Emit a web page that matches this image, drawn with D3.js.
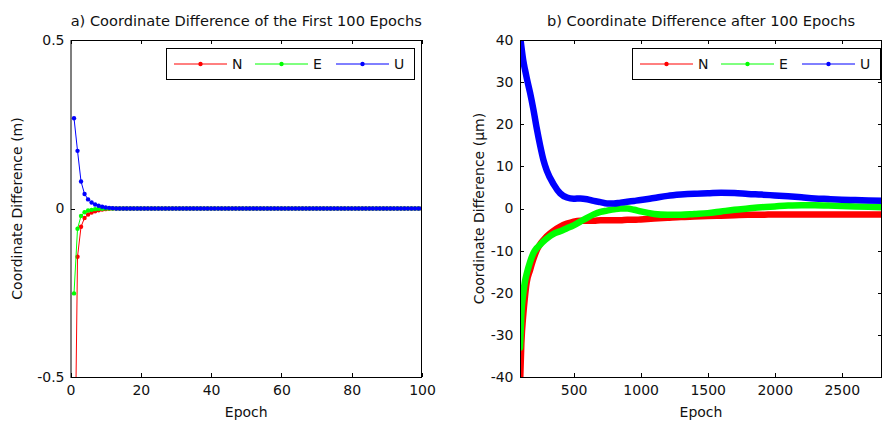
<!DOCTYPE html>
<html>
<head>
<meta charset="utf-8">
<script src="https://cdn.jsdelivr.net/npm/d3@7"></script>
<style>
  body { margin: 0; background: #fff; }
  svg text { font-family: "DejaVu Sans", sans-serif; font-size: 14px; fill: #111; }
  svg text.title { font-size: 14.6px; }
  .axis line, .axis path { stroke: #000; shape-rendering: crispEdges; }
</style>
</head>
<body>
<svg width="882" height="423"></svg>
<script>
/**
 * Coordinate differences N / E / U, two panels
 */

var svg = d3.select("svg");

var seriesNames = ["N", "E", "U"];
var seriesColors = ["#ff0000", "#00ff00", "#0000ff"];

// panel a) first 100 epochs (m), one value per epoch 1..100
var firstN = [-1.0, -0.143, -0.054, -0.028, -0.018, -0.012, -0.008, -0.005, -0.003, -0.002, -0.001, 0,
  0, 0, 0, 0, 0, 0, 0, 0, 0, 0, 0, 0, 0, 0, 0, 0, 0, 0, 0, 0, 0, 0, 0, 0, 0, 0, 0, 0, 0, 0, 0, 0,
  0, 0, 0, 0, 0, 0, 0, 0, 0, 0, 0, 0, 0, 0, 0, 0, 0, 0, 0, 0, 0, 0, 0, 0, 0, 0, 0, 0, 0, 0, 0, 0,
  0, 0, 0, 0, 0, 0, 0, 0, 0, 0, 0, 0, 0, 0, 0, 0, 0, 0, 0, 0, 0, 0, 0, 0];
var firstE = [-0.252, -0.06, -0.022, -0.011, -0.006, -0.004, -0.002, -0.001, -0.001, 0, 0, 0,
  0, 0, 0, 0, 0, 0, 0, 0, 0, 0, 0, 0, 0, 0, 0, 0, 0, 0, 0, 0, 0, 0, 0, 0, 0, 0, 0, 0, 0, 0, 0, 0,
  0, 0, 0, 0, 0, 0, 0, 0, 0, 0, 0, 0, 0, 0, 0, 0, 0, 0, 0, 0, 0, 0, 0, 0, 0, 0, 0, 0, 0, 0, 0, 0,
  0, 0, 0, 0, 0, 0, 0, 0, 0, 0, 0, 0, 0, 0, 0, 0, 0, 0, 0, 0, 0, 0, 0, 0];
var firstU = [0.268, 0.171, 0.08, 0.043, 0.027, 0.018, 0.012, 0.008, 0.005, 0.003, 0.002, 0.001,
  0, 0, 0, 0, 0, 0, 0, 0, 0, 0, 0, 0, 0, 0, 0, 0, 0, 0, 0, 0, 0, 0, 0, 0, 0, 0, 0, 0, 0, 0, 0, 0,
  0, 0, 0, 0, 0, 0, 0, 0, 0, 0, 0, 0, 0, 0, 0, 0, 0, 0, 0, 0, 0, 0, 0, 0, 0, 0, 0, 0, 0, 0, 0, 0,
  0, 0, 0, 0, 0, 0, 0, 0, 0, 0, 0, 0, 0, 0, 0, 0, 0, 0, 0, 0, 0, 0, 0, 0];

// panel b) after 100 epochs (micrometre), read at these epochs
var laterEpochs = [100, 110, 125, 137, 150, 175, 200, 225, 250, 275, 300, 350, 400, 450, 500, 550, 600,
  650, 700, 750, 800, 850, 900, 950, 1000, 1100, 1200, 1300, 1400, 1500, 1600, 1700, 1800, 1900, 2000,
  2100, 2200, 2300, 2400, 2500, 2600, 2700, 2800];
var laterN = [-42, -32, -25, -20.9, -17.5, -14.6, -12, -9.9, -8.5, -7.5, -6.6, -5.3, -4.3, -3.6, -3.1, -2.9, -2.9,
  -2.9, -2.8, -2.8, -2.8, -2.8, -2.7, -2.7, -2.6, -2.4, -2.2, -2.0, -1.9, -1.8, -1.7, -1.6, -1.5, -1.5, -1.4,
  -1.4, -1.4, -1.4, -1.4, -1.4, -1.4, -1.4, -1.4];
var laterE = [-33, -25, -20, -17.3, -15.5, -12.7, -10.6, -9.4, -8.6, -7.8, -7.1, -6.0, -5.4, -4.7, -4.0, -3.1, -2.2,
  -1.4, -0.8, -0.5, -0.2, 0, 0, -0.3, -0.7, -1.3, -1.5, -1.5, -1.3, -1.1, -0.7, -0.3, 0, 0.3, 0.5,
  0.7, 0.8, 0.8, 0.7, 0.6, 0.5, 0.4, 0.3];
var laterU = [41, 38.5, 35, 33, 31, 27.5, 23.5, 19, 15, 11.5, 9, 5.8, 3.6, 2.6, 2.3, 2.4, 2.2,
  1.8, 1.5, 1.2, 1.2, 1.4, 1.6, 1.8, 2.0, 2.5, 3.0, 3.3, 3.5, 3.6, 3.75, 3.7, 3.45, 3.3, 3.1,
  2.9, 2.65, 2.4, 2.25, 2.1, 2.0, 1.9, 1.85];

var firstTicksX = [0, 20, 40, 60, 80, 100];
var firstTicksY = [-0.5, 0, 0.5];
var laterTicksX = [500, 1000, 1500, 2000, 2500];
var laterTicksY = [-40, -30, -20, -10, 0, 10, 20, 30, 40];


function drawPanel(p) {
  var g = svg.append("g");
  var x = d3.scaleLinear().domain(p.xDomain).range([p.left, p.right]);
  var y = d3.scaleLinear().domain(p.yDomain).range([p.bottom, p.top]);

  g.append("clipPath").attr("id", p.id)
    .append("rect")
      .attr("x", p.left).attr("y", p.top)
      .attr("width", p.right - p.left).attr("height", p.bottom - p.top);

  var fmt = function(d) { return String(d); };

  // ticks point inward, mirrored on top / right
  g.append("g").attr("class", "axis")
    .attr("transform", "translate(0," + p.bottom + ")")
    .call(d3.axisBottom(x).tickValues(p.xTicks).tickSize(-4).tickPadding(8).tickFormat(fmt));
  g.append("g").attr("class", "axis")
    .attr("transform", "translate(0," + p.top + ")")
    .call(d3.axisTop(x).tickValues(p.xTicks).tickSize(-4).tickFormat(""));
  g.append("g").attr("class", "axis")
    .attr("transform", "translate(" + p.left + ",0)")
    .call(d3.axisLeft(y).tickValues(p.yTicks).tickSize(-4).tickPadding(p.yPad).tickFormat(fmt));
  g.append("g").attr("class", "axis")
    .attr("transform", "translate(" + p.right + ",0)")
    .call(d3.axisRight(y).tickValues(p.yTicks).tickSize(-4).tickFormat(""));
  g.selectAll(".axis path.domain").remove();
  g.selectAll(".axis text").attr("fill", null);

  var plot = g.append("g").attr("clip-path", "url(#" + p.id + ")");
  var line = d3.line()
    .x(function(d) { return x(d[0]); })
    .y(function(d) { return y(d[1]); });
  if (p.smooth) line.curve(d3.curveMonotoneX);

  p.series.forEach(function(s, i) {
    var pts = s.map(function(v, j) { return [p.xs[j], v]; });
    plot.append("path")
      .datum(pts)
      .attr("fill", "none")
      .attr("stroke", seriesColors[i])
      .attr("stroke-width", p.lineWidth)
      .attr("stroke-linejoin", "round")
      .attr("stroke-linecap", "round")
      .attr("d", line);
    if (p.markers) {
      plot.selectAll(".m" + i)
        .data(pts)
        .enter().append("circle")
          .attr("cx", function(d) { return x(d[0]); })
          .attr("cy", function(d) { return y(d[1]); })
          .attr("r", 2.2)
          .attr("fill", seriesColors[i]);
    }
  });

  // frame
  g.append("rect")
    .attr("x", p.left + 0.5).attr("y", p.top + 0.5)
    .attr("width", p.right - p.left - 1).attr("height", p.bottom - p.top)
    .attr("fill", "none").attr("stroke", "#000");

  g.append("text")
    .attr("class", "title")
    .attr("x", (p.left + p.right) / 2).attr("y", 26)
    .attr("text-anchor", "middle")
    .text(p.title);
  g.append("text")
    .attr("x", (p.left + p.right) / 2).attr("y", 417)
    .attr("text-anchor", "middle")
    .text("Epoch");
  g.append("text")
    .attr("transform", "translate(" + p.yLabelX + "," + (p.top + p.bottom) / 2 + ") rotate(-90)")
    .attr("text-anchor", "middle")
    .text(p.yLabel);

  // legend
  var lg = g.append("g").attr("transform", "translate(" + p.legendX + ",48)");
  lg.append("rect")
    .attr("x", 0.5).attr("y", 0.5).attr("width", 248).attr("height", 31)
    .attr("fill", "#fff").attr("stroke", "#000");
  seriesNames.forEach(function(name, i) {
    var ox = 8 + i * 81;
    lg.append("line")
      .attr("x1", ox).attr("x2", ox + 53).attr("y1", 16).attr("y2", 16)
      .attr("stroke", seriesColors[i]);
    lg.append("circle")
      .attr("cx", ox + 26.5).attr("cy", 16).attr("r", 2.2)
      .attr("fill", seriesColors[i]);
    lg.append("text")
      .attr("x", ox + 58).attr("y", 21)
      .text(name);
  });
}

drawPanel({
  id: "clipA",
  left: 70.5, right: 422, top: 40, bottom: 377,
  xDomain: [0, 100], yDomain: [-0.5, 0.5],
  xTicks: firstTicksX, yTicks: firstTicksY, yPad: 6,
  xs: firstN.map(function(d, i) { return i + 1; }),
  series: [firstN, firstE, firstU],
  lineWidth: 1, markers: true, smooth: false,
  title: "a) Coordinate Difference of the First 100 Epochs",
  yLabel: "Coordinate Difference (m)", yLabelX: 22,
  legendX: 166
});

drawPanel({
  id: "clipB",
  left: 520, right: 882, top: 40, bottom: 377,
  xDomain: [100, 2800], yDomain: [-40, 40],
  xTicks: laterTicksX, yTicks: laterTicksY, yPad: 6.5,
  xs: laterEpochs,
  series: [laterN, laterE, laterU],
  lineWidth: 6.5, markers: false, smooth: true,
  title: "b) Coordinate Difference after 100 Epochs",
  yLabel: "Coordinate Difference (\u00b5m)", yLabelX: 484,
  legendX: 632
});
</script>
</body>
</html>
